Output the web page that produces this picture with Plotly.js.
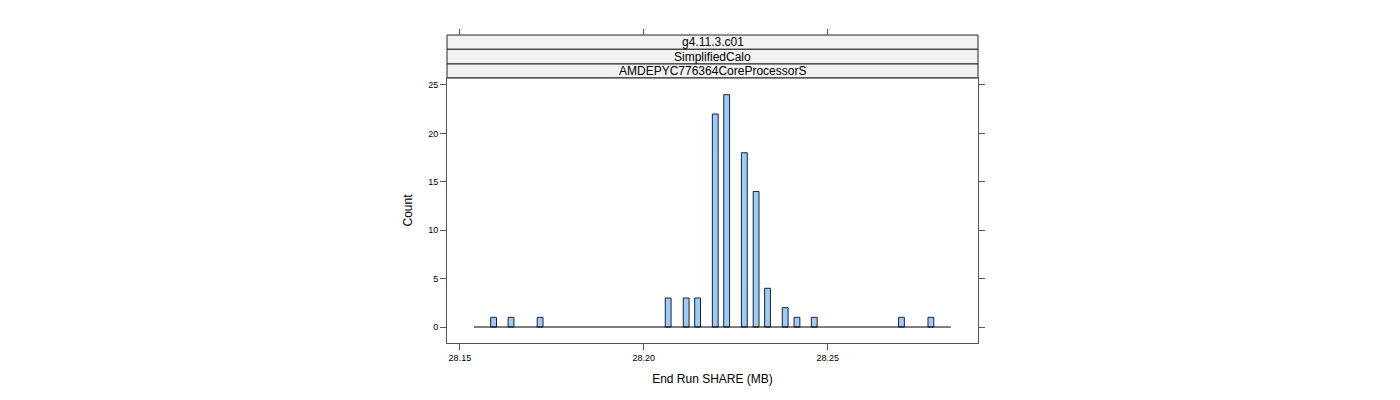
<!DOCTYPE html>
<html>
<head>
<meta charset="utf-8">
<script src="https://cdn.plot.ly/plotly-3.0.1.min.js"></script>
<style>html,body{margin:0;padding:0;background:#fff;}#chart{width:1400px;height:400px;}</style>
</head>
<body>
<div id="chart"></div>
<script>
// Bin centres (End Run SHARE, MB) and counts
const binCenters = [28.15916, 28.16390, 28.17180, 28.20660, 28.21150, 28.21460,
                    28.21940, 28.22250, 28.22730, 28.23050, 28.23360, 28.23840,
                    28.24160, 28.24630, 28.27000, 28.27800];
const counts = [1, 1, 1, 3, 3, 3, 22, 24, 18, 14, 4, 2, 1, 1, 1, 1];
const histRange = [28.1538, 28.2834];   // extent of the histogram breaks
const nBins = 82;
const binWidth = (histRange[1] - histRange[0]) / nBins;
const stripLabels = ["g4.11.3.c01", "SimplifiedCalo", "AMDEPYC776364CoreProcessorS"];
const xTicks = [28.15, 28.20, 28.25];
const yTicks = [0, 5, 10, 15, 20, 25];

const frameCol = '#555555';
const domTop = 265 / 308;

const traces = [
  {type: 'scatter', mode: 'lines', x: histRange, y: [0, 0],
   line: {color: '#000', width: 1}, hoverinfo: 'skip', showlegend: false},
  {type: 'bar', x: binCenters, y: counts, width: binWidth,
   marker: {color: '#99CCFF', line: {color: '#222', width: 1}}, showlegend: false},
  {type: 'scatter', mode: 'lines', x: [], y: [], xaxis: 'x2', yaxis: 'y', showlegend: false}
];

const shapes = [];
const annotations = [];
const stripEdges = [1, (343 - 49.3) / 308, (343 - 64) / 308, domTop];
for (let i = 0; i < stripLabels.length; i++) {
  shapes.push({type: 'rect', xref: 'paper', yref: 'paper', x0: 0, x1: 1,
    y0: stripEdges[i + 1], y1: stripEdges[i], fillcolor: '#F2F2F2',
    line: {color: '#222', width: 1}, layer: 'below'});
  annotations.push({xref: 'paper', yref: 'paper', x: 0.5,
    y: (stripEdges[i] + stripEdges[i + 1]) / 2, text: stripLabels[i],
    showarrow: false, xanchor: 'center', yanchor: 'middle',
    font: {family: 'Liberation Sans, Arial, sans-serif', size: 12, color: '#000'}});
}

const layout = {
  width: 1400, height: 400,
  margin: {l: 447, r: 422, t: 35, b: 57, pad: 0},
  paper_bgcolor: '#fff', plot_bgcolor: '#fff',
  font: {family: 'Liberation Sans, Arial, sans-serif', color: '#000'},
  bargap: 0,
  xaxis: {range: [28.1465, 28.2908], tickvals: xTicks, ticktext: xTicks.map(v => v.toFixed(2)),
    ticks: 'outside', ticklen: 6, tickcolor: frameCol, showgrid: false, zeroline: false,
    showline: true, linecolor: frameCol, linewidth: 1, mirror: true,
    tickfont: {size: 9}, title: {text: 'End Run SHARE (MB)', font: {size: 12}, standoff: 12}},
  xaxis2: {overlaying: 'x', matches: 'x', side: 'top', anchor: 'free', position: 1,
    range: [28.1465, 28.2908], tickvals: xTicks, showticklabels: false,
    ticks: 'outside', ticklen: 6, tickcolor: frameCol, showgrid: false, zeroline: false, showline: false},
  yaxis: {domain: [0, domTop], range: [-1.65, 25.72], tickvals: yTicks,
    ticks: 'outside', ticklen: 6, tickcolor: frameCol, showgrid: false, zeroline: false,
    showline: true, linecolor: frameCol, linewidth: 1, mirror: 'ticks',
    tickfont: {size: 9}, title: {text: 'Count', font: {size: 12}, standoff: 12}},
  shapes: shapes,
  annotations: annotations
};

Plotly.newPlot('chart', traces, layout, {displayModeBar: false, staticPlot: true});
</script>
</body>
</html>
